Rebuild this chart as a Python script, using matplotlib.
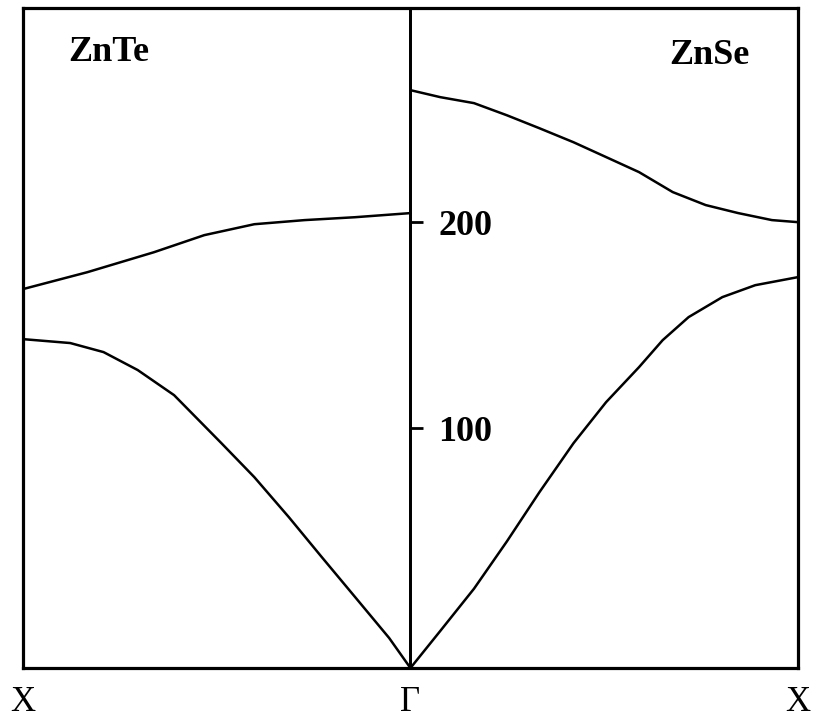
import matplotlib
matplotlib.use('Agg')
import matplotlib.pyplot as plt

plt.rcParams['font.family'] = ['Liberation Serif', 'DejaVu Serif']

# reduced wave vector: -1 = X (ZnTe side), 0 = Gamma, 1 = X (ZnSe side)
znte_q = [-1.0, -0.834, -0.662, -0.532, -0.403, -0.273, -0.143, 0.0]
znte_upper = [167.5, 175.7, 185.4, 193.7, 199.0, 201.0, 202.4, 204.4]

znte_q_low = [-1.0, -0.878, -0.792, -0.704, -0.610, -0.488, -0.403,
              -0.314, -0.229, -0.143, -0.055, 0.0]
znte_lower = [143.2, 141.3, 136.9, 128.2, 116.0, 92.7, 76.2,
              56.8, 37.4, 18.0, -1.9, -16.5]

znse_q = [0.0, 0.077, 0.164, 0.249, 0.333, 0.421, 0.505,
          0.590, 0.677, 0.762, 0.846, 0.933, 1.0]
znse_upper = [264.1, 260.7, 257.8, 251.9, 245.6, 238.8, 231.6,
              224.3, 214.6, 208.3, 204.4, 201.0, 200.0]

znse_q_low = [0.0, 0.077, 0.164, 0.249, 0.333, 0.421, 0.505,
              0.590, 0.651, 0.718, 0.805, 0.890, 1.0]
znse_lower = [-16.5, 1.5, 22.0, 45.0, 68.9, 92.7, 112.6,
              129.6, 142.7, 153.9, 163.6, 169.4, 173.3]

y_ticks = [100, 200]
x_ticks = [-1, 0, 1]
x_labels = ['X', '\u0393', 'X']

fig = plt.figure(figsize=(8.15, 7.19), dpi=100)
ax = fig.add_axes([0.0282, 0.0709, 0.9508, 0.918])

for q, w in [(znte_q, znte_upper), (znte_q_low, znte_lower),
             (znse_q, znse_upper), (znse_q_low, znse_lower)]:
    ax.plot(q, w, color='black', lw=1.8, solid_joinstyle='round',
            solid_capstyle='round')

ax.set_xlim(-1, 1)
ax.set_ylim(-16.5, 304)
ax.axvline(0, color='black', lw=2.0)

for s in ax.spines.values():
    s.set_linewidth(2.3)

ax.set_yticks([])
ax.set_xticks(x_ticks)
ax.set_xticklabels(x_labels, fontsize=25)
ax.tick_params(axis='x', length=0, pad=13)

# frequency scale sits on the Gamma line
ax2 = ax.twinx()
ax2.set_ylim(ax.get_ylim())
for name in ['left', 'top', 'bottom']:
    ax2.spines[name].set_visible(False)
ax2.spines['right'].set_position(('data', 0))
ax2.spines['right'].set_linewidth(2.0)
ax2.set_yticks(y_ticks)
ax2.set_yticklabels([str(t) for t in y_ticks], fontsize=26, fontweight='bold')
ax2.tick_params(axis='y', direction='out', length=9, width=2.0, pad=11)

ax.text(-0.779, 282.5, 'ZnTe', fontsize=26, fontweight='bold', ha='center', va='center')
ax.text(0.772, 281, 'ZnSe', fontsize=26, fontweight='bold', ha='center', va='center')

plt.savefig('out.png', dpi=100)
plt.close()
